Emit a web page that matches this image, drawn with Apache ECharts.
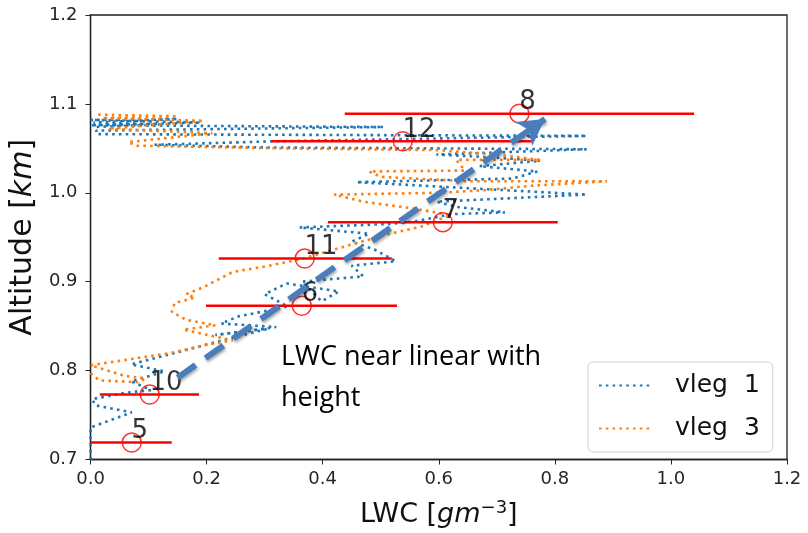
<!DOCTYPE html>
<html lang="en">
<head>
  <meta charset="UTF-8">
  <title>LWC profile</title>
  <script src="https://cdn.jsdelivr.net/npm/echarts@6/dist/echarts.min.js"></script>
  <style>
    html, body { margin: 0; padding: 0; background: #fff; }
    #chart { width: 808px; height: 533px; }
  </style>
</head>
<body>
  <div id="chart"></div>
  <script>
    // LWC profiles [lwc, altitude]
    var vleg1 = [
      [0.000, 0.700], [0.000, 0.736], [0.071, 0.753], [0.008, 0.761], [0.003, 0.768],
      [0.060, 0.775], [0.104, 0.778], [0.070, 0.788], [0.128, 0.799], [0.070, 0.807],
      [0.140, 0.819], [0.215, 0.832], [0.305, 0.847], [0.215, 0.840], [0.320, 0.849],
      [0.225, 0.853], [0.255, 0.861], [0.340, 0.872], [0.300, 0.886], [0.338, 0.898],
      [0.428, 0.889], [0.398, 0.878], [0.364, 0.900], [0.470, 0.906], [0.450, 0.918],
      [0.526, 0.923], [0.490, 0.936], [0.450, 0.945], [0.480, 0.954], [0.360, 0.961],
      [0.518, 0.965], [0.560, 0.968], [0.622, 0.976], [0.714, 0.978], [0.632, 0.984],
      [0.596, 0.990], [0.855, 0.998], [0.458, 1.012], [0.727, 1.016], [0.770, 1.024],
      [0.670, 1.030], [0.775, 1.036], [0.690, 1.040], [0.596, 1.043], [0.855, 1.049],
      [0.300, 1.051], [0.110, 1.054], [0.320, 1.058], [0.855, 1.064], [0.010, 1.066],
      [0.010, 1.070], [0.505, 1.074], [0.000, 1.076], [0.190, 1.079], [0.000, 1.082],
      [0.150, 1.083], [0.005, 1.079], [0.120, 1.077], [0.004, 1.074]
    ]
    var vleg3 = [
      [0.000, 0.797], [0.015, 0.789], [0.082, 0.787], [0.095, 0.791], [0.060, 0.794],
      [0.000, 0.806], [0.080, 0.814], [0.140, 0.820], [0.200, 0.829], [0.245, 0.834],
      [0.195, 0.841], [0.160, 0.846], [0.215, 0.851], [0.165, 0.857], [0.140, 0.866],
      [0.145, 0.876], [0.180, 0.882], [0.165, 0.886], [0.195, 0.894], [0.245, 0.911],
      [0.300, 0.917], [0.360, 0.925], [0.440, 0.940], [0.510, 0.953], [0.570, 0.962],
      [0.620, 0.975], [0.560, 0.982], [0.470, 0.990], [0.420, 0.998], [0.600, 1.000],
      [0.680, 1.003], [0.760, 1.008], [0.890, 1.013], [0.650, 1.013], [0.500, 1.018],
      [0.480, 1.024], [0.645, 1.025], [0.630, 1.037], [0.775, 1.037], [0.700, 1.043],
      [0.600, 1.048], [0.330, 1.050], [0.080, 1.053], [0.065, 1.057], [0.210, 1.067],
      [0.030, 1.072], [0.195, 1.081], [0.020, 1.084], [0.150, 1.086], [0.010, 1.088]
    ]

    // flight-leg means with horizontal ranges
    var legLabels = ['5', '10', '6', '11', '7', '12', '8']
    var legLwc = [0.071, 0.102, 0.364, 0.369, 0.607, 0.538, 0.739]
    var legAlt = [0.719, 0.773, 0.873, 0.926, 0.967, 1.058, 1.089]
    var legLo = [0.000, 0.016, 0.199, 0.221, 0.409, 0.312, 0.438]
    var legHi = [0.140, 0.187, 0.528, 0.519, 0.805, 0.762, 1.040]

    // trend arrow start / end
    var arrowFrom = [0.150, 0.792]
    var arrowTo = [0.783, 1.083]

    var legPoints = legLabels.map(function (t, i) {
      return { value: [legLwc[i], legAlt[i]], label: { formatter: t } }
    })
    var legBars = legLabels.map(function (t, i) {
      return [legLwc[i], legAlt[i], legLo[i], legHi[i]]
    })

    var chart = echarts.init(document.getElementById('chart'))
    var tickFont = { fontFamily: 'DejaVu Sans', fontSize: 18, color: '#262626' }
    var dotted = [2.6, 4.2]

    var option = {
      animation: false,
      grid: {
        left: 90, right: 21, top: 15, bottom: 71,
        show: true, borderColor: '#222', borderWidth: 1.3
      },
      legend: {
        data: ['vleg  1', 'vleg  3'],
        orient: 'vertical',
        left: 588, top: 362,
        itemWidth: 54, itemHeight: 14, itemGap: 18,
        padding: [11, 13, 11, 10],
        itemStyle: { opacity: 0 },
        borderColor: '#d0d0d0', borderWidth: 1, borderRadius: 5,
        backgroundColor: 'rgba(255,255,255,0.85)',
        textStyle: { fontFamily: 'DejaVu Sans', fontSize: 25, color: '#111', padding: [0, 0, 0, 17] }
      },
      xAxis: {
        type: 'value', min: 0, max: 1.2, interval: 0.2,
        name: 'LWC [{i|gm}{s|−3}]',
        nameLocation: 'middle', nameGap: 40,
        nameTextStyle: {
          fontFamily: 'DejaVu Sans', fontSize: 27, color: '#111',
          rich: {
            i: { fontFamily: 'DejaVu Sans', fontStyle: 'italic', fontSize: 27, color: '#111' },
            s: { fontFamily: 'DejaVu Sans', fontStyle: 'normal', fontSize: 18, color: '#111', verticalAlign: 'top', padding: [0, 0, 12, 0] }
          }
        },
        axisLine: { lineStyle: { color: '#222', width: 1.3 } },
        axisTick: { show: true, length: 5, lineStyle: { color: '#222' } },
        axisLabel: Object.assign({ margin: 11, formatter: function (v) { return v.toFixed(1) } }, tickFont),
        splitLine: { show: false }
      },
      yAxis: {
        type: 'value', min: 0.7, max: 1.2, interval: 0.1,
        name: 'Altitude [{i|km}]',
        nameLocation: 'middle', nameGap: 50,
        nameTextStyle: {
          fontFamily: 'DejaVu Sans', fontSize: 30, color: '#111',
          rich: { i: { fontFamily: 'DejaVu Sans', fontStyle: 'italic', fontSize: 30, color: '#111' } }
        },
        axisLine: { lineStyle: { color: '#222', width: 1.3 } },
        axisTick: { show: true, length: 5, lineStyle: { color: '#222' } },
        axisLabel: Object.assign({ margin: 13, formatter: function (v) { return v.toFixed(1) } }, tickFont),
        splitLine: { show: false }
      },
      graphic: [{
        type: 'text', left: 281, top: 337, z: 100,
        style: {
          text: 'LWC near linear with\nheight',
          fontFamily: 'Open Sans', fontSize: 27, lineHeight: 41, fill: '#000'
        }
      }],
      series: [
        {
          name: 'vleg  1', type: 'line', data: vleg1, symbol: 'none', z: 2,
          lineStyle: { color: '#1f77b4', width: 2.6, type: dotted },
          itemStyle: { color: '#1f77b4' }
        },
        {
          name: 'vleg  3', type: 'line', data: vleg3, symbol: 'none', z: 2,
          lineStyle: { color: '#ff7f0e', width: 2.6, type: dotted },
          itemStyle: { color: '#ff7f0e' }
        },
        {
          type: 'custom', data: legBars, z: 3,
          renderItem: function (params, api) {
            var y = api.value(1)
            var p1 = api.coord([api.value(2), y])
            var p2 = api.coord([api.value(3), y])
            return {
              type: 'line',
              shape: { x1: p1[0], y1: p1[1], x2: p2[0], y2: p2[1] },
              style: { stroke: '#ff0000', lineWidth: 2.5 }
            }
          }
        },
        {
          type: 'scatter', data: legPoints, z: 4,
          symbol: 'circle', symbolSize: 19,
          itemStyle: { color: 'rgba(0,0,0,0)', borderColor: '#ff0000', borderWidth: 1.5 },
          label: {
            show: true, position: [10, -1], align: 'left', verticalAlign: 'middle',
            fontFamily: 'DejaVu Sans', fontSize: 26, color: '#000'
          }
        },
        {
          type: 'line', data: [], z: 5,
          markLine: {
            silent: true,
            symbol: ['none', 'arrow'],
            symbolSize: [22, 26],
            label: { show: false },
            lineStyle: {
              color: '#4a7ebb', width: 6, type: [22, 12],
              shadowColor: 'rgba(0,0,0,0.35)', shadowBlur: 3, shadowOffsetX: 1, shadowOffsetY: 2
            },
            data: [[{ coord: arrowFrom }, { coord: arrowTo }]]
          }
        }
      ]
    }
    chart.setOption(option)
  </script>
</body>
</html>
